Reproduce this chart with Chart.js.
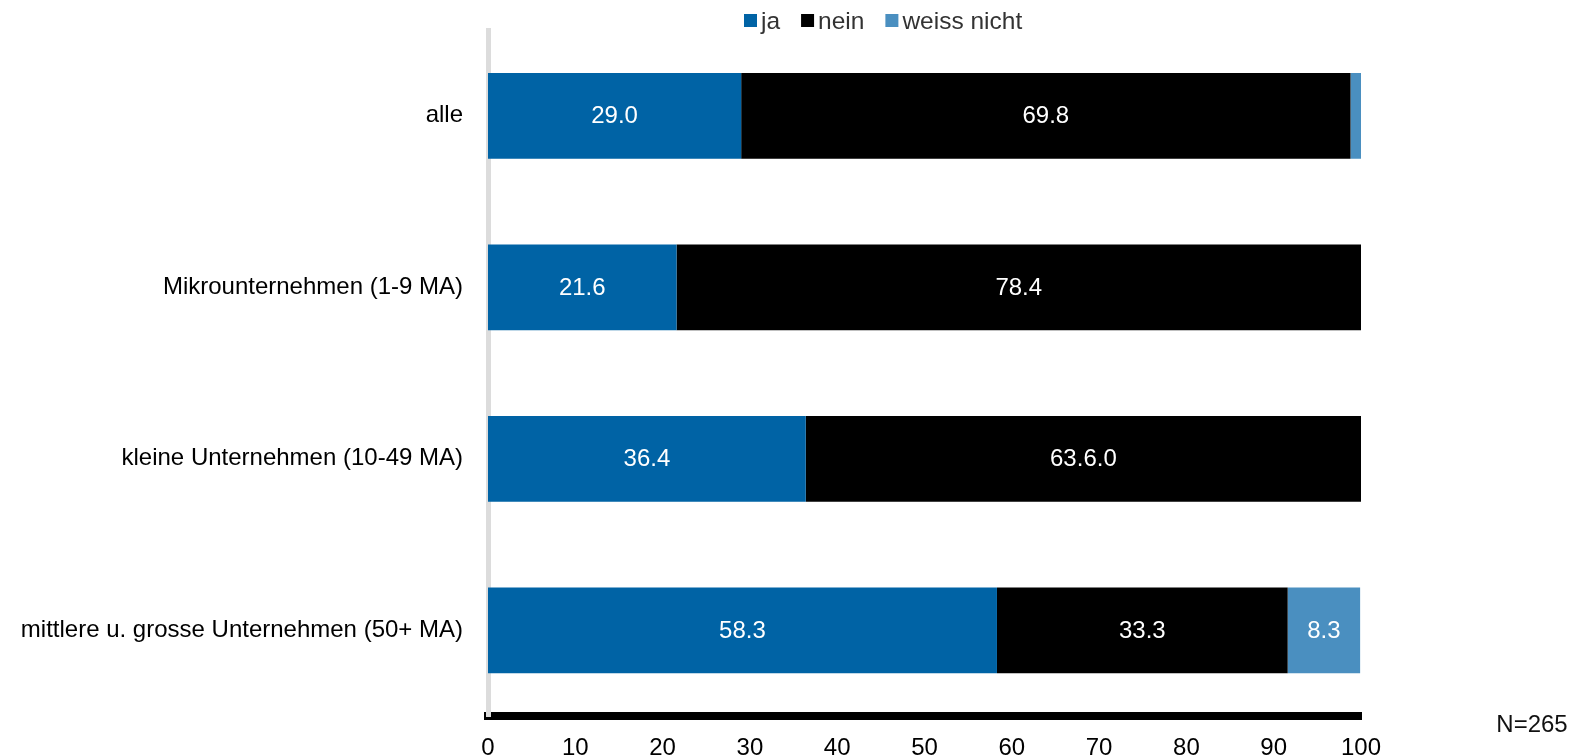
<!DOCTYPE html>
<html>
<head>
<meta charset="utf-8">
<script src="https://cdn.jsdelivr.net/npm/chart.js@4/dist/chart.umd.min.js"></script>
<style>
  html, body { margin: 0; padding: 0; background: #fff; }
  #wrap { width: 1584px; height: 756px; position: relative; }
</style>
</head>
<body>
<div id="wrap"><canvas id="c"></canvas></div>
<script>
const categories = ["alle", "Mikrounternehmen (1-9 MA)", "kleine Unternehmen (10-49 MA)", "mittlere u. grosse Unternehmen (50+ MA)"];
const jaValues = [29.0, 21.6, 36.4, 58.3];
const neinValues = [69.8, 78.4, 63.6, 33.3];
const weissValues = [1.2, 0, 0, 8.3];
const jaLabels = ["29.0", "21.6", "36.4", "58.3"];
const neinLabels = ["69.8", "78.4", "63.6.0", "33.3"];
const weissLabels = ["", "", "", "8.3"];
const xTicks = [0, 10, 20, 30, 40, 50, 60, 70, 80, 90, 100];
const note = "N=265";

const FONT = "'Liberation Sans', Arial, sans-serif";

// white value labels in the middle of each segment
const barLabels = {
  id: "barLabels",
  afterDatasetsDraw(chart) {
    const ctx = chart.ctx;
    ctx.save();
    ctx.fillStyle = "#fff";
    ctx.font = "24px " + FONT;
    ctx.textAlign = "center";
    ctx.textBaseline = "middle";
    chart.data.datasets.forEach((ds, i) => {
      chart.getDatasetMeta(i).data.forEach((bar, j) => {
        const txt = ds.valueLabels[j];
        if (!txt) return;
        const p = bar.getProps(["x", "y", "base"], true);
        ctx.fillText(txt, (p.x + p.base) / 2, p.y + 1);
      });
    });
    ctx.restore();
  }
};

// legend row on top plus the N note
const topLegend = {
  id: "topLegend",
  afterDraw(chart) {
    const ctx = chart.ctx;
    ctx.save();
    ctx.font = "24.5px " + FONT;
    ctx.textBaseline = "middle";
    let x = 744;
    const y = 22;
    chart.data.datasets.forEach(ds => {
      ctx.fillStyle = ds.backgroundColor;
      ctx.fillRect(x, y - 8, 13, 13);
      ctx.fillStyle = "#333";
      ctx.fillText(ds.label, x + 17, y);
      x += 17 + ctx.measureText(ds.label).width + 21;
    });
    ctx.font = "24px " + FONT;
    ctx.fillStyle = "#111";
    ctx.textAlign = "center";
    ctx.fillText(note, 1532, 725);
    ctx.restore();
  }
};

new Chart(document.getElementById("c"), {
  type: "bar",
  data: {
    labels: categories,
    datasets: [
      { label: "ja", data: jaValues, valueLabels: jaLabels, backgroundColor: "#0063a5" },
      { label: "nein", data: neinValues, valueLabels: neinLabels, backgroundColor: "#000000" },
      { label: "weiss nicht", data: weissValues, valueLabels: weissLabels, backgroundColor: "#4a8fc0" }
    ]
  },
  options: {
    indexAxis: "y",
    responsive: true,
    maintainAspectRatio: false,
    animation: false,
    barPercentage: 0.5,
    categoryPercentage: 1,
    layout: { padding: { top: 30, right: 223, left: 0, bottom: 0 } },
    scales: {
      x: {
        stacked: true,
        min: 0,
        max: 100,
        afterBuildTicks: s => { s.ticks = xTicks.map(v => ({ value: v })); },
        afterFit: s => { s.height = 40; s.paddingLeft = 0; s.paddingRight = 0; },
        grid: { display: false, drawTicks: false },
        border: { display: true, color: "#000", width: 8 },
        ticks: { color: "#000", font: { family: FONT, size: 24 }, padding: 18 }
      },
      y: {
        stacked: true,
        afterFit: s => { s.width = 488; s.paddingTop = 0; s.paddingBottom = 0; },
        grid: { display: false, drawTicks: false },
        border: { display: true, color: "#dcdcdc", width: 5 },
        ticks: { color: "#000", font: { family: FONT, size: 24 }, padding: 25 }
      }
    },
    plugins: {
      legend: { display: false },
      tooltip: { enabled: false }
    }
  },
  plugins: [barLabels, topLegend]
});
</script>
</body>
</html>
